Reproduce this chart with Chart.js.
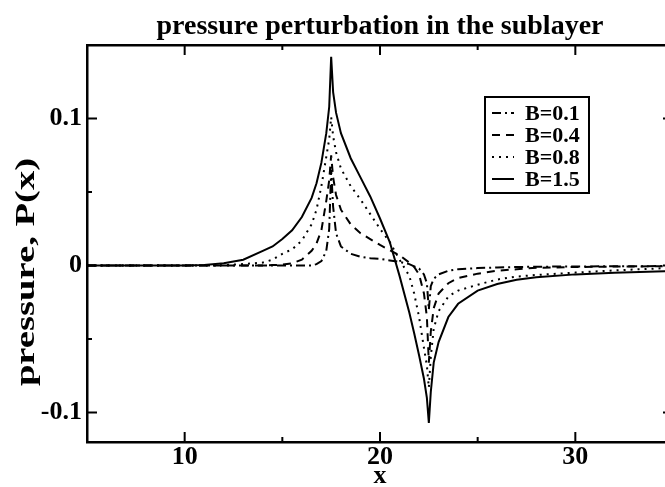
<!DOCTYPE html>
<html>
<head>
<meta charset="utf-8">
<script src="https://cdn.jsdelivr.net/npm/chart.js@4.4.0/dist/chart.umd.min.js"></script>
<style>
  html, body { margin: 0; padding: 0; background: #fff; overflow: hidden; }
  #wrap { width: 673px; height: 487px; }
</style>
</head>
<body>
<div id="wrap"><canvas id="chartContainer" width="673" height="487"></canvas></div>
<script>
// x positions of the samples
var xVals = [5, 8, 10, 11, 12, 13, 14, 14.5, 15, 15.5, 16, 16.5, 16.75, 17, 17.25, 17.4, 17.5, 17.6, 17.75, 18,
             18.5, 19, 19.5, 20, 20.5, 21, 21.5, 21.75, 22, 22.25, 22.4, 22.5, 22.6, 22.75, 23, 23.5, 24, 25, 26, 27,
             28, 30, 32, 35];

var pB01 = [0, 0, 0, 0, 0, 0, 0, 0, 0, 0, 0, 0, 0.001, 0.003, 0.01, 0.025, 0.065, 0.04, 0.022, 0.013,
            0.008, 0.006, 0.005, 0.0045, 0.0035, 0.0025, 0.001, -0.0005, -0.002, -0.006, -0.012, -0.03, -0.014, -0.009, -0.006, -0.0035, -0.0025, -0.0017, -0.0013, -0.001,
            -0.0008, -0.0006, -0.0005, -0.0003];
var pB04 = [0, 0, 0, 0, 0, 0, 0, 0.0003, 0.0006, 0.0015, 0.004, 0.01, 0.015, 0.024, 0.044, 0.058, 0.075, 0.06, 0.048, 0.038,
            0.028, 0.022, 0.018, 0.014, 0.0105, 0.007, 0.002, -0.001, -0.006, -0.019, -0.035, -0.066, -0.045, -0.029, -0.019, -0.012, -0.0085, -0.0055, -0.0035, -0.0025,
            -0.0015, -0.001, -0.0007, -0.0004];
var pB08 = [0, 0, 0, 0, 0.0003, 0.001, 0.002, 0.004, 0.008, 0.011, 0.017, 0.028, 0.038, 0.054, 0.074, 0.086, 0.101, 0.088, 0.077, 0.066,
            0.054, 0.045, 0.035, 0.025, 0.016, 0.004, -0.007, -0.019, -0.035, -0.056, -0.068, -0.083, -0.062, -0.043, -0.031, -0.021, -0.017, -0.013, -0.0095, -0.0075,
            -0.0064, -0.0048, -0.0033, -0.0015];
var pB15 = [0, 0, 0, 0.0003, 0.0015, 0.004, 0.01, 0.013, 0.018, 0.024, 0.033, 0.046, 0.056, 0.07, 0.09, 0.108, 0.142, 0.118, 0.104, 0.09,
            0.073, 0.06, 0.047, 0.032, 0.016, -0.007, -0.032, -0.046, -0.061, -0.077, -0.09, -0.107, -0.086, -0.066, -0.052, -0.035, -0.026, -0.017, -0.0125, -0.0097,
            -0.008, -0.006, -0.0049, -0.0037];

var seriesNames = ["B=0.1", "B=0.4", "B=0.8", "B=1.5"];
var xMajor = [10, 20, 30];
var xMinor = [15, 25];
var yMajor = [-0.1, 0, 0.1];
var yMinor = [-0.05, 0.05];

var serif = "'Liberation Serif', 'Times New Roman', serif";

function pts(vals) {
    return xVals.map(function (x, i) { return {x: x, y: vals[i]}; });
}

// inward tick marks on all four sides of the frame
var frameTicks = {
    id: 'frameTicks',
    afterDraw: function (chart) {
        var ctx = chart.ctx, a = chart.chartArea;
        var xs = chart.scales.x, ys = chart.scales.y;
        ctx.save();
        ctx.strokeStyle = '#000';
        ctx.lineWidth = 2;
        function xt(v, len) {
            var p = xs.getPixelForValue(v);
            ctx.beginPath();
            ctx.moveTo(p, a.bottom); ctx.lineTo(p, a.bottom - len);
            ctx.moveTo(p, a.top); ctx.lineTo(p, a.top + len);
            ctx.stroke();
        }
        function yt(v, len) {
            var p = ys.getPixelForValue(v);
            ctx.beginPath();
            ctx.moveTo(a.left, p); ctx.lineTo(a.left + len, p);
            ctx.moveTo(a.right, p); ctx.lineTo(a.right - len, p);
            ctx.stroke();
        }
        xMajor.forEach(function (v) { xt(v, 10); });
        xMinor.forEach(function (v) { xt(v, 5); });
        yMajor.forEach(function (v) { yt(v, 10); });
        yMinor.forEach(function (v) { yt(v, 5); });

        // y axis title (drawn a bit stretched along its length, as in the original)
        ctx.fillStyle = '#000';
        ctx.font = "bold 28px " + serif;
        ctx.translate(34, 272);
        ctx.rotate(-Math.PI / 2);
        ctx.scale(1.38, 1);
        ctx.textAlign = 'center';
        ctx.textBaseline = 'alphabetic';
        ctx.fillText('pressure, P(x)', 0, 0);
        ctx.restore();
    }
};

// boxed legend inside the plot
var boxLegend = {
    id: 'boxLegend',
    afterDraw: function (chart) {
        var ctx = chart.ctx;
        ctx.save();
        ctx.fillStyle = '#fff';
        ctx.fillRect(485, 97, 104, 96);
        ctx.strokeStyle = '#000';
        ctx.lineWidth = 2;
        ctx.strokeRect(485, 97, 104, 96);
        ctx.font = "bold 22px " + serif;
        ctx.textBaseline = 'middle';
        ctx.fillStyle = '#000';
        chart.data.datasets.forEach(function (ds, i) {
            var y = 113 + i * 22;
            ctx.setLineDash(ds.borderDash || []);
            ctx.lineWidth = ds.borderWidth;
            ctx.beginPath();
            ctx.moveTo(492, y); ctx.lineTo(514, y);
            ctx.stroke();
            ctx.setLineDash([]);
            ctx.fillText(ds.label, 525, y + 1);
        });
        ctx.restore();
    }
};

var tickFont = {family: serif, size: 26, weight: 'bold'};

var myChart = new Chart('chartContainer', {
    type: 'line',
    data: {
        datasets: [
            {label: seriesNames[0], data: pts(pB01), borderDash: [9, 4, 2, 4]},
            {label: seriesNames[1], data: pts(pB04), borderDash: [8, 6]},
            {label: seriesNames[2], data: pts(pB08), borderDash: [2, 5]},
            {label: seriesNames[3], data: pts(pB15), borderDash: []}
        ].map(function (d) {
            d.borderColor = '#000';
            d.borderWidth = 2;
            d.pointRadius = 0;
            d.fill = false;
            d.tension = 0;
            return d;
        })
    },
    options: {
        responsive: false,
        animation: false,
        layout: {padding: 0},
        plugins: {
            legend: {display: false},
            tooltip: {enabled: false},
            title: {
                display: true,
                fullSize: false,
                text: 'pressure perturbation in the sublayer',
                color: '#000',
                font: {family: serif, size: 28, weight: 'bold'},
                padding: {top: 10, bottom: 1.4}
            }
        },
        scales: {
            x: {
                type: 'linear', position: 'bottom', min: 5, max: 35,
                afterBuildTicks: function (s) { s.ticks = xMajor.map(function (v) { return {value: v}; }); },
                afterFit: function (s) { s.height = 45; },
                grid: {display: false, drawTicks: false},
                border: {display: true, width: 2.5, color: '#000'},
                ticks: {font: tickFont, color: '#000', padding: 0, maxRotation: 0},
                title: {display: true, text: 'x', color: '#000', font: tickFont, padding: {top: 0, bottom: -5}}
            },
            x2: {
                type: 'linear', position: 'top', min: 5, max: 35,
                afterFit: function (s) { s.height = 0; },
                grid: {display: false, drawTicks: false},
                border: {display: true, width: 2.5, color: '#000'},
                ticks: {display: false}
            },
            y: {
                type: 'linear', position: 'left', min: -0.12, max: 0.15,
                afterBuildTicks: function (s) { s.ticks = yMajor.map(function (v) { return {value: v}; }); },
                afterFit: function (s) { s.width = 87; },
                grid: {display: false, drawTicks: false},
                border: {display: true, width: 2.5, color: '#000'},
                ticks: {font: tickFont, color: '#000', padding: 5,
                        callback: function (v) { return String(Math.round(v * 10) / 10); }}
            },
            y2: {
                type: 'linear', position: 'right', min: -0.12, max: 0.15,
                afterFit: function (s) { s.width = 0; },
                grid: {display: false, drawTicks: false},
                border: {display: true, width: 2.5, color: '#000'},
                ticks: {display: false}
            }
        }
    },
    plugins: [frameTicks, boxLegend]
});
</script>
</body>
</html>
